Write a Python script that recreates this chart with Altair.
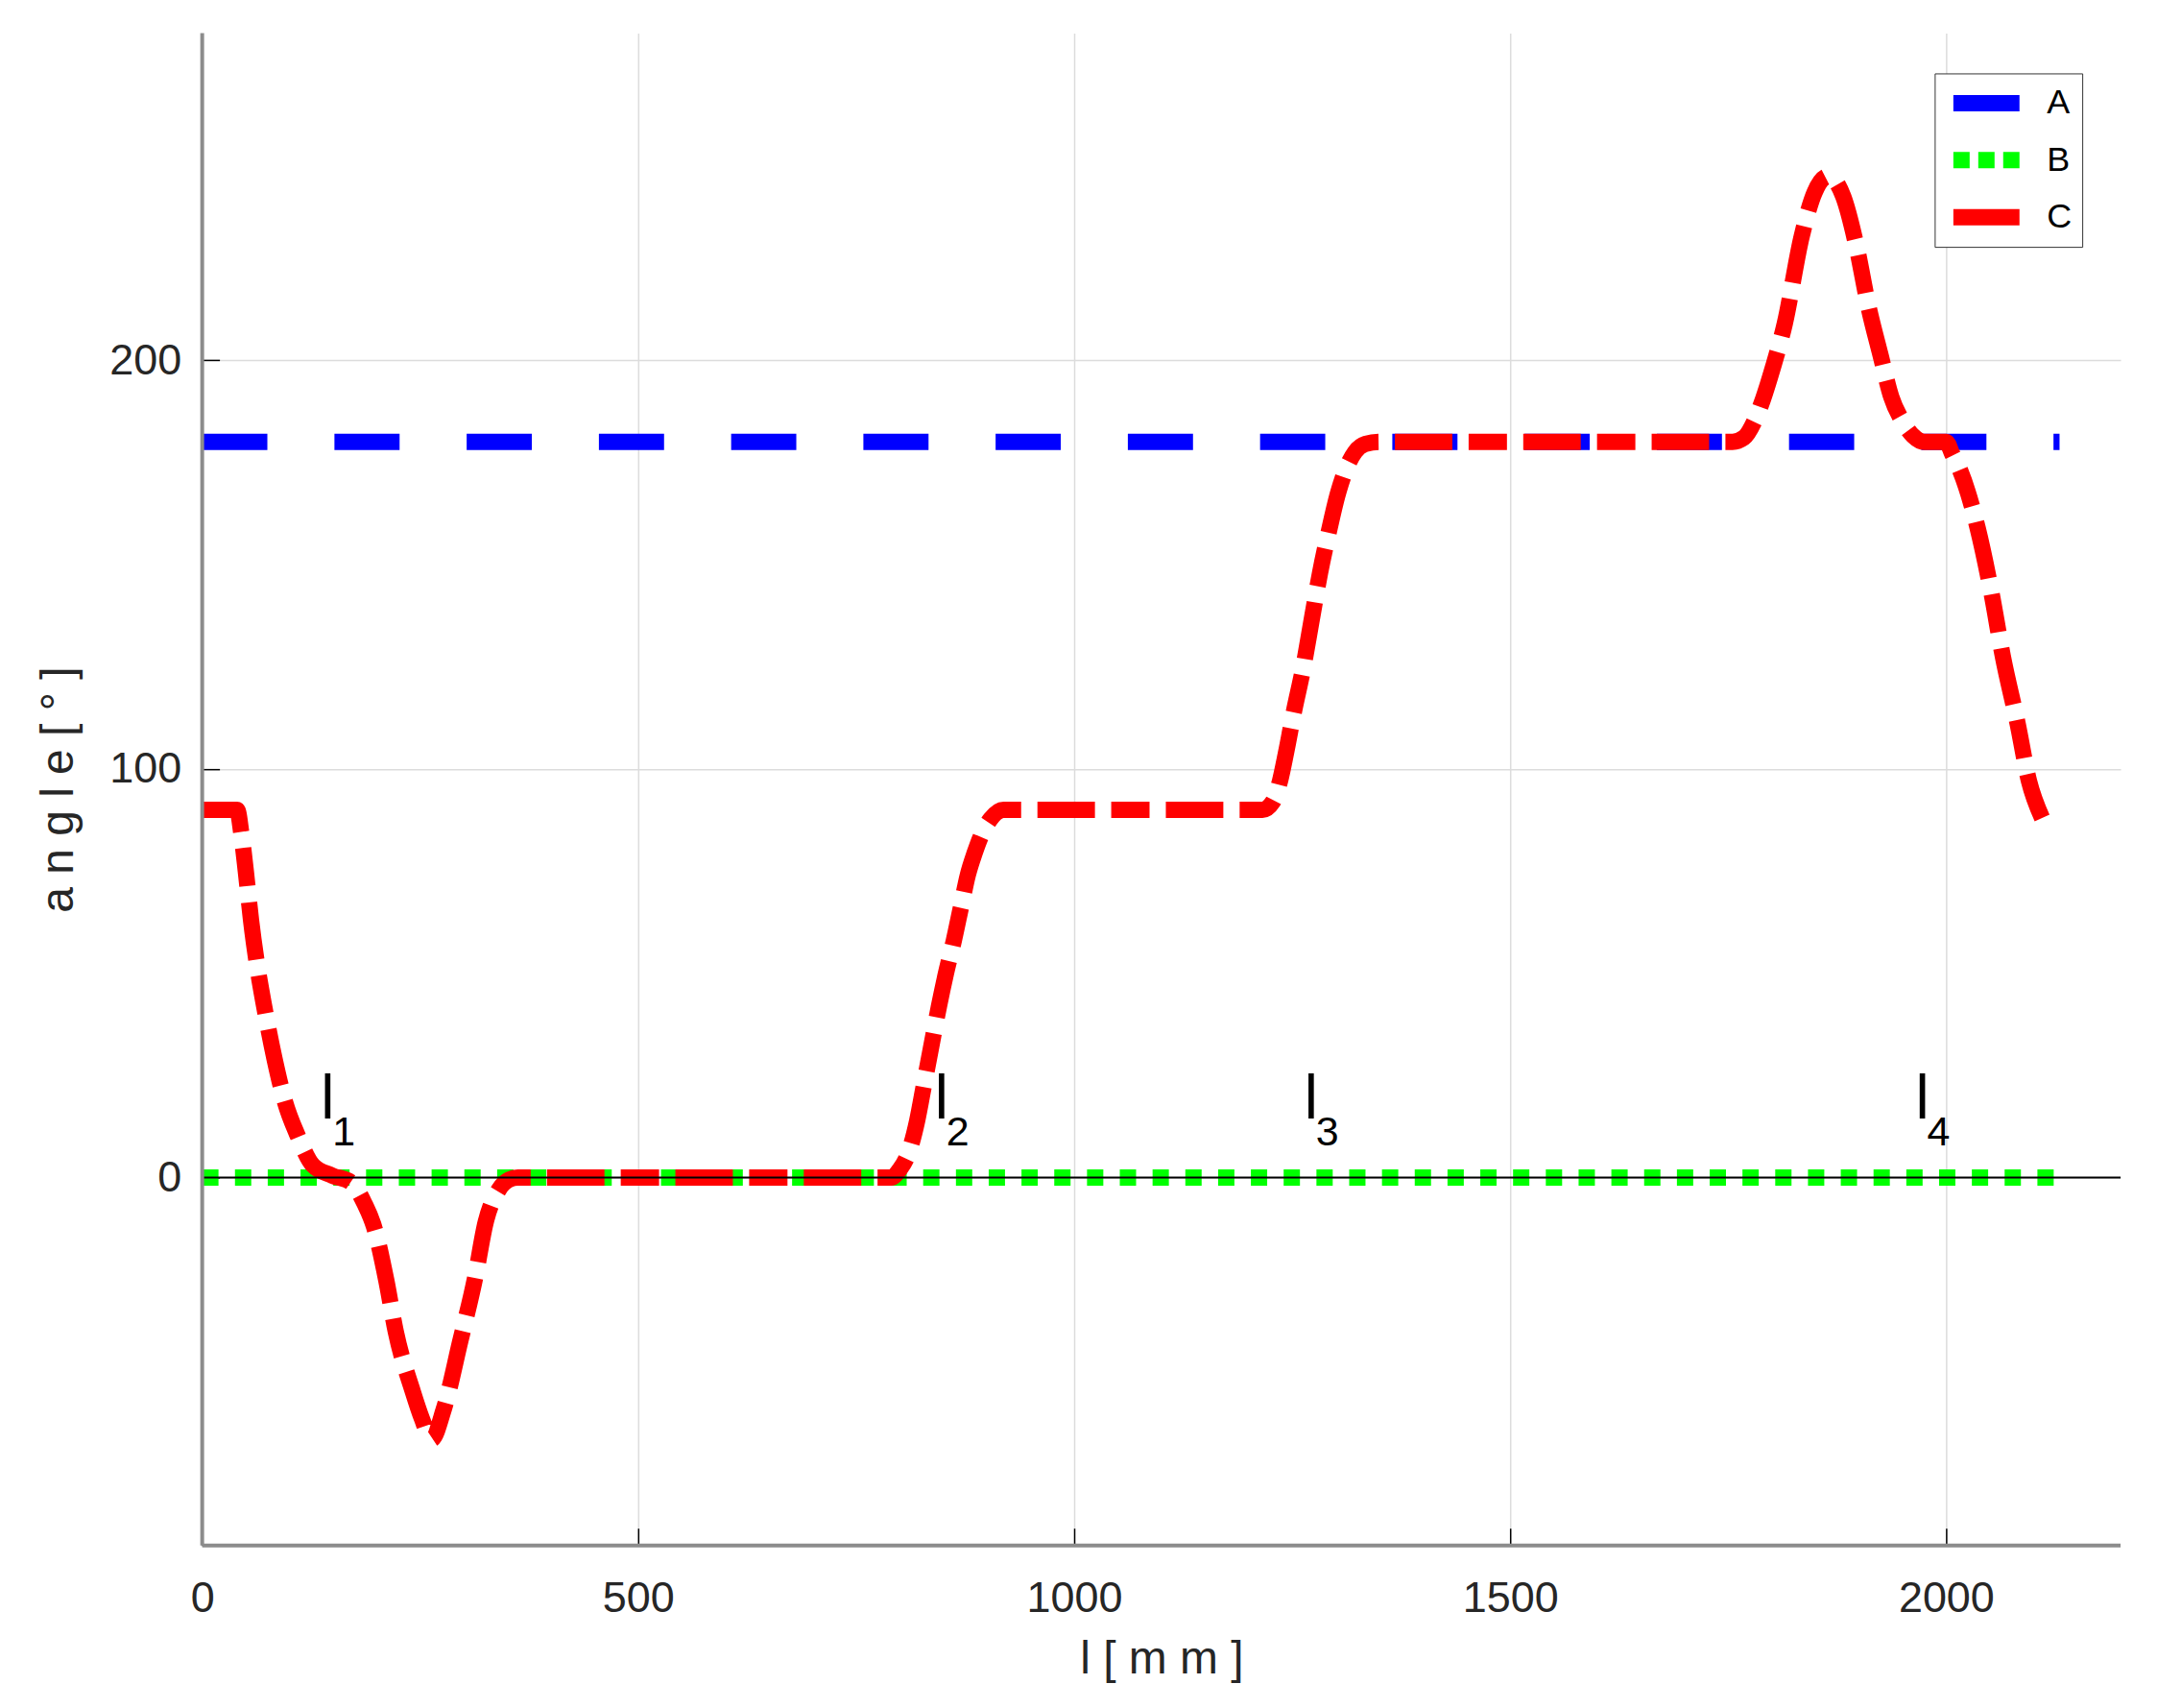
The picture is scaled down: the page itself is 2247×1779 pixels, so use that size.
import altair as alt
import pandas as pd

FONT = "Liberation Sans"

# ---------------- data ----------------
series_names = ["A", "B", "C"]
series_colors = ["#0000ff", "#00ff00", "#ff0000"]
series_dash = [[68, 70], [17, 17.2], [60, 17, 40, 17]]

a_x = [0, 2130]
a_y = [180, 180]

b_x = [0, 2130]
b_y = [0, 0]

c_x = [0, 40, 45, 50, 56, 63, 71, 83, 95, 109, 127, 149, 171, 186, 197, 211, 222,
       241, 252, 263, 277, 296, 313, 325, 340, 352, 362,
       790, 800, 810, 820, 828, 836, 845, 853, 862, 870, 878, 886, 893, 904, 919,
       1216, 1228, 1236, 1243, 1252, 1262, 1272, 1282, 1292, 1302, 1312, 1322, 1334, 1350,
       1755, 1768, 1780, 1790, 1801, 1815, 1834, 1849, 1865, 1882, 1897, 1911, 1925, 1937,
       1950, 1962, 1975,
       2000, 2007, 2016, 2036, 2052, 2065, 2082, 2095, 2110]
c_y = [90, 90, 84, 75, 63, 52, 42, 29, 18.5, 10.5, 3, 0.5, -1.2, -6.3, -12, -25, -37.7,
       -52, -59, -64, -56.7, -40, -24.5, -11, -3, -0.5, 0,
       0, 2, 6, 14, 23, 32, 42, 50, 58, 66, 74, 79.5, 83.5, 87.7, 90,
       90, 92, 97, 104, 114, 124, 136, 148, 158, 167, 173.5, 177.5, 179.5, 180,
       180, 181, 185, 190.5, 198, 209, 230, 241, 245, 240, 228, 213, 201, 191,
       185, 181.5, 180,
       180, 177, 173, 159, 143, 127.5, 111, 97, 88]

label_x = [136, 840, 1264, 1965]
label_y = [14.5, 14.5, 14.5, 14.5]
label_main = ["l", "l", "l", "l"]
label_sub = ["1", "2", "3", "4"]

x_ticks = [0, 500, 1000, 1500, 2000]
y_ticks = [0, 100, 200]
x_domain = [0, 2200]
y_domain = [-90, 280]

# ---------------- tables ----------------
rows = []
for name, xs, ys in zip(series_names, [a_x, b_x, c_x], [a_y, b_y, c_y]):
    for i, (xv, yv) in enumerate(zip(xs, ys)):
        rows.append({"series": name, "dash": name, "x": xv, "y": yv, "order": i})
df = pd.DataFrame(rows)

lab_df = pd.DataFrame({"x": label_x, "y": label_y, "main": label_main, "sub": label_sub})
zero_df = pd.DataFrame({"v": [0]})
frame_df = pd.DataFrame({"x0": [x_domain[0]], "y0": [y_domain[0]]})

xscale = alt.Scale(domain=x_domain, nice=False, zero=False)
yscale = alt.Scale(domain=y_domain, nice=False, zero=False)

x_axis = alt.Axis(
    values=x_ticks, title="l [ m m ]", format="d",
    offset=-18, tickSize=18, tickColor="black", tickWidth=1.5,
    domain=False, grid=True, gridColor="#dcdcdc", gridWidth=1.5,
    labelFont=FONT, labelFontSize=45, labelColor="#262626", labelPadding=33,
    labelFlush=False,
    titleFont=FONT, titleFontSize=48, titleFontWeight="normal", titleColor="#262626",
    titlePadding=17,
)
y_axis = alt.Axis(
    values=y_ticks, title="a n g l e   [ ° ]", format="d",
    offset=-18, tickSize=18, tickColor="black", tickWidth=1.5,
    domain=False, grid=True, gridColor="#dcdcdc", gridWidth=1.5,
    labelFont=FONT, labelFontSize=45, labelColor="#262626", labelPadding=22,
    labelFlush=False,
    titleFont=FONT, titleFontSize=48, titleFontWeight="normal", titleColor="#262626",
    titlePadding=28,
)

legend = alt.Legend(
    title=None, orient="none", legendX=1808, legendY=42, direction="vertical",
    symbolType="stroke", symbolSize=69 * 69, symbolStrokeWidth=17,
    symbolDash={"expr": "datum.value === 'B' ? [17, 9] : [1000, 0]"},
    labelFont=FONT, labelFontSize=36, labelColor="black", labelOffset=20,
    padding=11, strokeColor="#333333", fillColor="white", cornerRadius=0,
    clipHeight=40, rowPadding=19.5,
)

lines = alt.Chart(df).mark_line(strokeWidth=17, interpolate="monotone", strokeCap="butt").encode(
    x=alt.X("x:Q", scale=xscale, axis=x_axis),
    y=alt.Y("y:Q", scale=yscale, axis=y_axis),
    color=alt.Color("series:N", scale=alt.Scale(domain=series_names, range=series_colors), legend=legend),
    strokeDash=alt.StrokeDash("dash:N", scale=alt.Scale(range=series_dash), legend=None),
    order="order:Q",
)

zero_rule = alt.Chart(zero_df).mark_rule(color="black", strokeWidth=2).encode(y="v:Q")
left_frame = alt.Chart(frame_df).mark_rule(color="#8c8c8c", strokeWidth=4).encode(x="x0:Q")
bottom_frame = alt.Chart(frame_df).mark_rule(color="#8c8c8c", strokeWidth=4).encode(y="y0:Q")

lab_main = alt.Chart(lab_df).mark_text(
    font=FONT, fontSize=64, align="left", baseline="alphabetic", color="black"
).encode(x="x:Q", y="y:Q", text="main:N")
lab_sub = alt.Chart(lab_df).mark_text(
    font=FONT, fontSize=43, align="left", baseline="alphabetic", color="black", dx=12, dy=28
).encode(x="x:Q", y="y:Q", text="sub:N")

chart = alt.layer(lines, zero_rule, left_frame, bottom_frame, lab_main, lab_sub).properties(
    width=2002, height=1578,
    padding={"left": 203, "top": 25, "right": 30, "bottom": 150},
    autosize=alt.AutoSizeParams(type="none"),
    background="white",
).configure_view(stroke=None)

chart.save("out.html", embed_options={"renderer": "svg", "actions": False})
